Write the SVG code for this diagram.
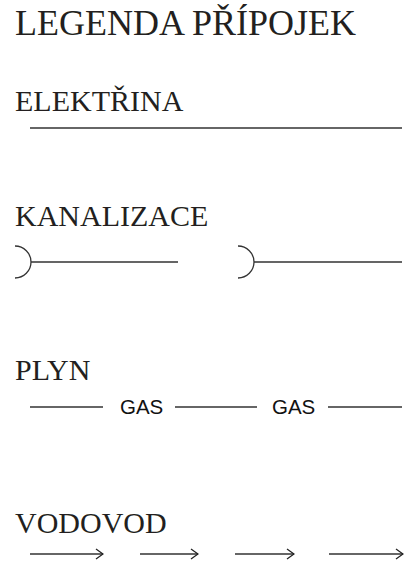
<svg xmlns="http://www.w3.org/2000/svg" width="413" height="562" viewBox="0 0 413 562">
<style>
.h{font-family:"Liberation Serif","DejaVu Serif",serif;fill:#231f20}
.t{font-size:30px}
.g{font-family:"Liberation Sans",Arial,sans-serif;font-size:20.5px;fill:#111}
.ln{stroke:#333;stroke-width:1.3;fill:none}
</style>
<defs>
<marker id="ah" viewBox="0 0 10 12" refX="9" refY="6" markerWidth="10" markerHeight="12" markerUnits="userSpaceOnUse" orient="auto">
<path d="M2,1 L9,6 L2,11" fill="none" stroke="#222" stroke-width="1.3"/>
</marker>
</defs>
<rect width="413" height="562" fill="#fff"/>
<text class="h" x="15" y="35" font-size="36">LEGENDA PŘÍPOJEK</text>
<g id="elektrina">
<text class="h t" x="15" y="111">ELEKTŘINA</text>
<line class="ln" x1="30" y1="128" x2="402" y2="128" stroke="#555" stroke-width="1.5"/>
</g>
<g id="kanalizace">
<text class="h t" x="15" y="226">KANALIZACE</text>
<path class="ln" d="M15,246 A16,16 0 0 1 15,278 M31,262 H178"/>
<path class="ln" d="M238,246 A16,16 0 0 1 238,278 M254,262 H402"/>
</g>
<g id="plyn">
<text class="h t" x="15" y="380">PLYN</text>
<line class="ln" x1="30" y1="407" x2="103" y2="407"/>
<text class="g" x="120" y="414">GAS</text>
<line class="ln" x1="175" y1="407" x2="257" y2="407"/>
<text class="g" x="272" y="414">GAS</text>
<line class="ln" x1="328" y1="407" x2="402" y2="407"/>
</g>
<g id="vodovod">
<text class="h t" x="15" y="533">VODOVOD</text>
<g class="ln" stroke="#222" marker-end="url(#ah)">
<line x1="30" y1="554" x2="103" y2="554"/>
<line x1="140" y1="554" x2="198" y2="554"/>
<line x1="235" y1="554" x2="294" y2="554"/>
<line x1="329" y1="554" x2="403" y2="554"/>
</g>
</g>
</svg>
